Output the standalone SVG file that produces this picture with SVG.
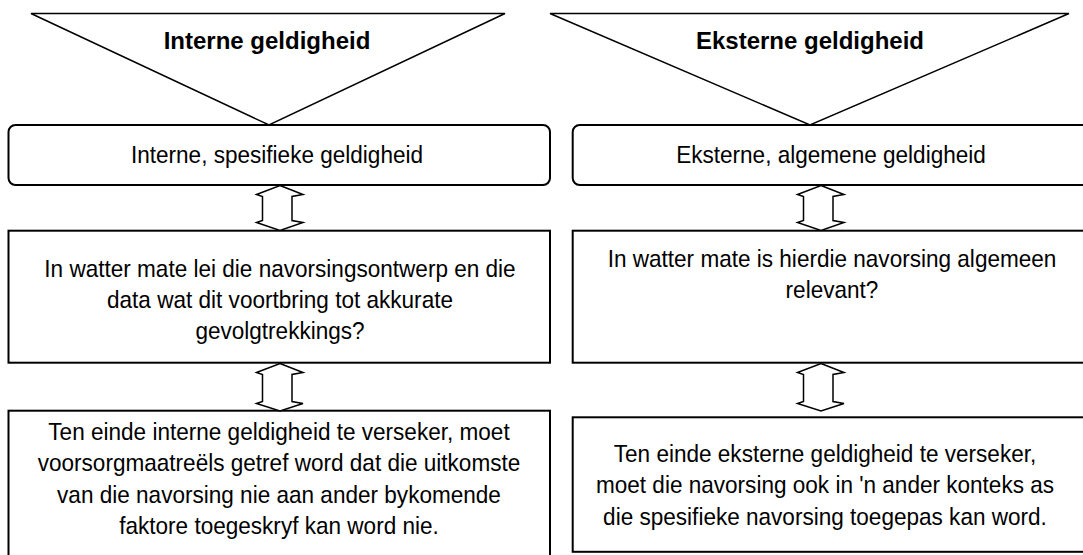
<svg xmlns="http://www.w3.org/2000/svg" width="1083" height="555" viewBox="0 0 1083 555">
<style>
.tri{fill:#fff;stroke:#000;stroke-width:1.5}
.box{fill:#fff;stroke:#000;stroke-width:2}
.arr{fill:#fff;stroke:#000;stroke-width:1.5;stroke-linejoin:miter}
.t{font-family:"Liberation Sans",Arial,sans-serif;font-size:24px;fill:#000;text-anchor:middle}
.h{font-family:"Liberation Sans",Arial,sans-serif;font-size:24px;font-weight:bold;fill:#000;text-anchor:middle}
</style>
<rect width="1083" height="555" fill="#fff"/>
<defs>
<polygon id="dbl" class="arr" points="0,0 23,9 12,11 12,35 23,37 0,45 -23.5,37 -17.5,35 -17.5,11 -23.5,9"/>
<polygon id="dbl2" class="arr" points="0,0 23,9 12,11 12,38 23,40 0,47.5 -23.5,40 -17.5,38 -17.5,11 -23.5,9"/>
</defs>
<g id="tri-interne"><polygon class="tri" points="31,13.5 505,13.5 269,125"/><text class="h" x="267" y="49">Interne geldigheid</text></g>
<g id="tri-eksterne"><polygon class="tri" points="550,13.5 1069,13.5 810,125"/><text class="h" x="810" y="49">Eksterne geldigheid</text></g>
<g id="interne-spesifiek"><rect class="box" x="8.5" y="125" width="541.5" height="60" rx="7"/><text class="t" transform="matrix(0.94 0 0 1 277 0)" x="0" y="163">Interne, spesifieke geldigheid</text></g>
<g id="eksterne-algemeen"><rect class="box" x="572.7" y="125" width="530" height="60" rx="7"/><text class="t" transform="matrix(0.94 0 0 1 831 0)" x="0" y="163">Eksterne, algemene geldigheid</text></g>
<g id="interne-vraag"><rect class="box" x="8.5" y="230.7" width="541.5" height="132"/>
<g transform="matrix(0.94 0 0 1 280 0)">
<text class="t" x="0" y="277">In watter mate lei die navorsingsontwerp en die</text>
<text class="t" x="0" y="308.5">data wat dit voortbring tot akkurate</text>
<text class="t" x="0" y="339.5">gevolgtrekkings?</text></g></g>
<g id="eksterne-vraag"><rect class="box" x="572.7" y="230.7" width="530" height="132"/>
<g transform="matrix(0.94 0 0 1 832 0)">
<text class="t" x="0" y="267.5">In watter mate is hierdie navorsing algemeen</text>
<text class="t" x="0" y="298.5">relevant?</text></g></g>
<g id="interne-verseker"><rect class="box" x="8.5" y="410.7" width="541.5" height="160"/>
<g transform="matrix(0.94 0 0 1 279 0)">
<text class="t" x="0" y="440">Ten einde interne geldigheid te verseker, moet</text>
<text class="t" x="0" y="471.5">voorsorgmaatreëls getref word dat die uitkomste</text>
<text class="t" x="0" y="503">van die navorsing nie aan ander bykomende</text>
<text class="t" x="0" y="534.5">faktore toegeskryf kan word nie.</text></g></g>
<g id="eksterne-verseker"><rect class="box" x="572.7" y="417.3" width="530" height="134.5"/>
<g transform="matrix(0.94 0 0 1 825 0)">
<text class="t" x="0" y="462">Ten einde eksterne geldigheid te verseker,</text>
<text class="t" x="0" y="493.5">moet die navorsing ook in 'n ander konteks as</text>
<text class="t" x="0" y="525">die spesifieke navorsing toegepas kan word.</text></g></g>
<g id="connectors">
<use href="#dbl" x="280" y="185.5"/>
<use href="#dbl" x="821" y="185.5"/>
<use href="#dbl2" x="280" y="363.5"/>
<use href="#dbl2" x="821" y="363.5"/>
</g>
</svg>
